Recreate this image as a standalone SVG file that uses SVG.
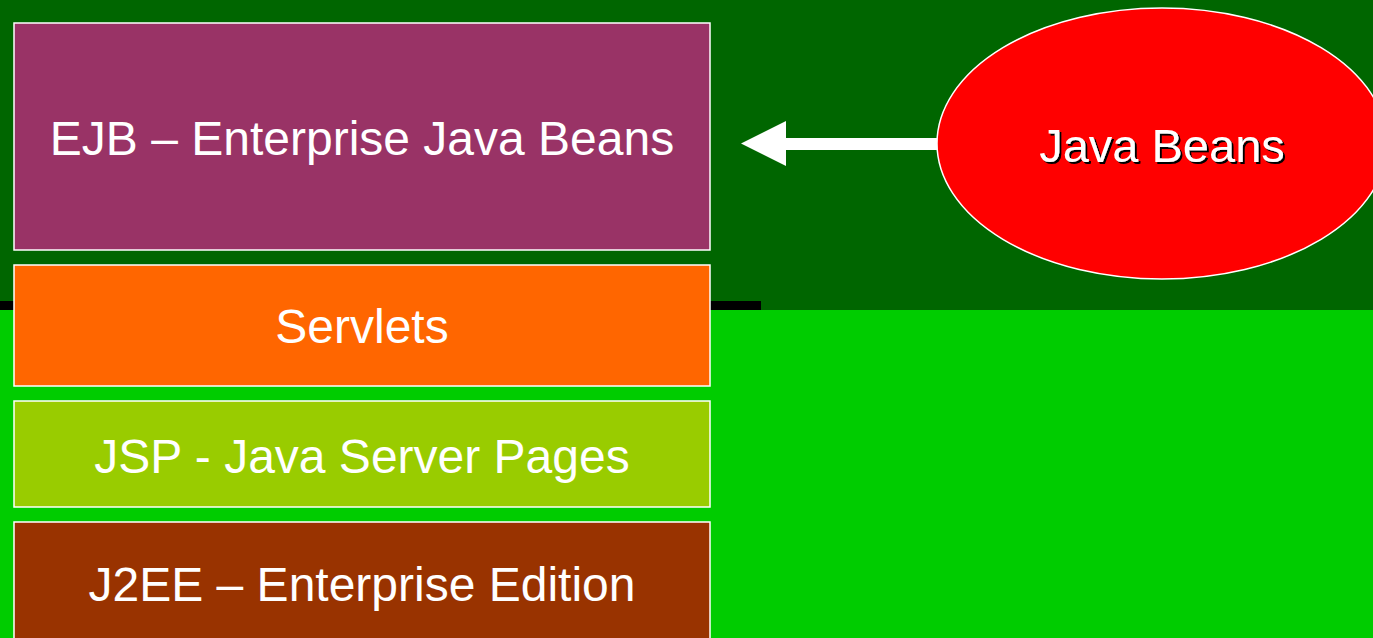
<svg xmlns="http://www.w3.org/2000/svg" width="1373" height="638" viewBox="0 0 1373 638">
<defs>
<filter id="shadow" x="-5%" y="-20%" width="110%" height="140%">
<feDropShadow dx="2" dy="2" stdDeviation="0.3" flood-color="#000000" flood-opacity="1"/>
</filter>
</defs>
<style>
.box{stroke:#ffffff;stroke-width:1.5}
.lbl{font-family:"Liberation Sans",Arial,sans-serif;font-size:48px;fill:#ffffff;text-anchor:middle}
</style>
<rect x="0" y="0" width="1373" height="310" fill="#006600"/>
<rect x="0" y="310" width="1373" height="328" fill="#00cc00"/>
<rect x="0" y="301" width="761" height="9" fill="#000000"/>
<g id="ejb">
<rect class="box" x="14" y="23" width="696" height="227" fill="#993366"/>
<text class="lbl" x="362" y="155">EJB – Enterprise Java Beans</text>
</g>
<g id="servlets">
<rect class="box" x="14" y="265" width="696" height="121" fill="#ff6600"/>
<text class="lbl" x="362" y="343">Servlets</text>
</g>
<g id="jsp">
<rect class="box" x="14" y="401" width="696" height="106" fill="#99cc00"/>
<text class="lbl" x="362" y="473">JSP - Java Server Pages</text>
</g>
<g id="j2ee">
<rect class="box" x="14" y="522" width="696" height="130" fill="#993300"/>
<text class="lbl" x="362" y="601">J2EE – Enterprise Edition</text>
</g>
<g id="javabeans">
<ellipse cx="1162" cy="143.5" rx="225" ry="135.5" fill="#ff0000" stroke="#ffffff" stroke-width="1.5"/>
<text class="lbl" x="1162" y="162" style="font-size:47px" filter="url(#shadow)">Java Beans</text>
</g>
<g id="connectors">
<rect x="785" y="138" width="152" height="12" fill="#ffffff"/>
<polygon points="741,143.5 786,121 786,166" fill="#ffffff"/>
</g>
</svg>
